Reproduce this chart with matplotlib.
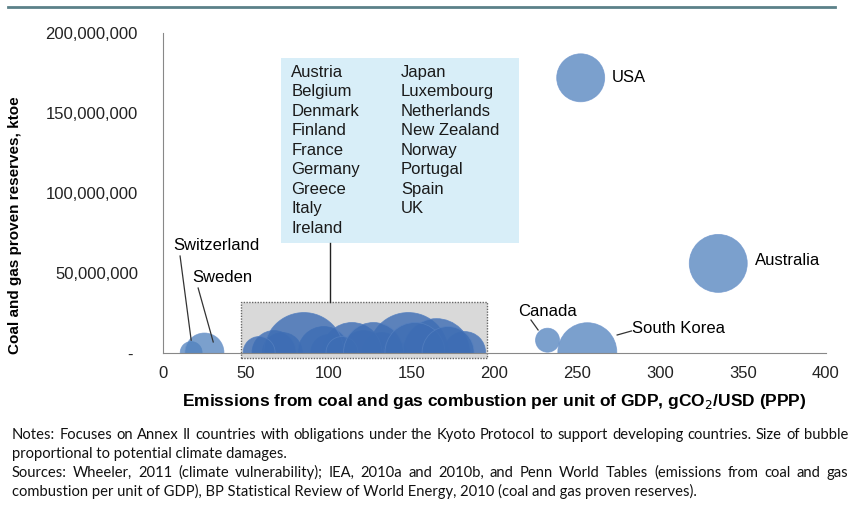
import matplotlib.pyplot as plt
from matplotlib.patches import Rectangle
from matplotlib.lines import Line2D
from matplotlib.ticker import FuncFormatter

plt.rcParams['font.family'] = ['Liberation Sans', 'DejaVu Sans']

# labelled countries: emissions (gCO2/USD), reserves (ktoe), bubble size (climate damage, rel.)
countries = ['USA', 'Australia', 'Canada', 'South Korea', 'Switzerland', 'Sweden']
emis = [252, 335, 232, 256, 17, 25]
reserves = [172e6, 56e6, 8e6, 0.5e6, 0.3e6, 0.3e6]
damage = [576, 841, 144, 870, 120, 380]

# grouped countries inside the grey box
group = ['Austria', 'Belgium', 'Denmark', 'Finland', 'France', 'Germany', 'Greece', 'Italy', 'Ireland',
         'Japan', 'Luxembourg', 'Netherlands', 'New Zealand', 'Norway', 'Portugal', 'Spain', 'UK']
group_emis = [72, 121, 100, 132, 67, 148, 182, 114, 97, 85, 140, 165, 108, 58, 127, 152, 172]
group_res = [0.3e6, 0.3e6, 0.3e6, 0.3e6, 0.3e6, 0.3e6, 0.3e6, 0.3e6, 0.3e6,
             0.3e6, 0.3e6, 0.3e6, 0.3e6, 0.3e6, 0.3e6, 0.3e6, 0.3e6]
group_damage = [400, 480, 324, 400, 484, 1600, 440, 900, 676, 1600, 144, 1150, 256, 256, 900, 900, 676]

xticks = [0, 50, 100, 150, 200, 250, 300, 350, 400]
yticks = [0, 50e6, 100e6, 150e6, 200e6]

fig = plt.figure(figsize=(8.52, 5.07), dpi=100)
ax = fig.add_axes([163/852, 1-353/507, (826-163)/852, 320/507])

k = 2.07  # px^2 -> pt^2
# grey box behind group
ax.add_patch(Rectangle((47, -3.1e6), 148.5, 35e6, facecolor='#d9d9d9', edgecolor='#666666',
                       linestyle=(0, (1, 1)), lw=1, clip_on=False, zorder=1))
ax.scatter(group_emis, group_res, s=[d*k for d in group_damage], color='#3d6db4', alpha=0.8,
           edgecolor='#5580c0', linewidth=0.6, zorder=2)
ax.scatter(emis, reserves, s=[d*k for d in damage], color='#4f81bd', alpha=0.75,
           edgecolor='#6e95cc', linewidth=0.6, zorder=2)

# group list box
ax.add_patch(Rectangle((71, 68.75e6), 144, 115.5e6, facecolor='#d8eef8', edgecolor='none', zorder=3))
ax.plot([101, 101], [68.75e6, 31.9e6], color='#222222', lw=1, zorder=3)
for i, name in enumerate(group):
    col = 0 if i < 9 else 1
    row = i if i < 9 else i - 9
    ax.text(77.5 if col == 0 else 143.5, 175.6e6 - row*12.2e6, name, fontsize=12,
            va='center', ha='left', color='#1a1a1a', zorder=4)

# labels
ax.text(270.5, 172.5e6, 'USA', fontsize=12, va='center', ha='left')
ax.text(357, 58e6, 'Australia', fontsize=12, va='center', ha='left')
ax.text(232, 26e6, 'Canada', fontsize=12, va='center', ha='center')
ax.text(283, 15.6e6, 'South Korea', fontsize=12, va='center', ha='left')
ax.text(32, 67e6, 'Switzerland', fontsize=12, va='center', ha='center')
ax.text(36, 47.5e6, 'Sweden', fontsize=12, va='center', ha='center')
lines = [((10.3, 17), (60.6e6, 8e6)), ((21.2, 30.3), (40.6e6, 6.9e6)),
         ((222, 226.3), (20.6e6, 14.4e6)), ((274, 282.6), (11.25e6, 13.75e6))]
for xs, ys in lines:
    ax.plot(xs, ys, color='#333333', lw=0.9, zorder=3)

ax.set_xlim(0, 400)
ax.set_ylim(0, 200e6)
ax.set_xticks(xticks)
ax.set_yticks(yticks)
ax.yaxis.set_major_formatter(FuncFormatter(lambda v, p: '- ' if v == 0 else f'{int(v):,}'))
ax.tick_params(length=0, labelsize=12, colors='#222222')
ax.tick_params(axis='y', pad=18)
ax.tick_params(axis='x', pad=9)
for s in ['top', 'right']:
    ax.spines[s].set_visible(False)
for s in ['left', 'bottom']:
    ax.spines[s].set_color('#888888')
ax.set_xlabel('Emissions from coal and gas combustion per unit of GDP, gCO$_2$/USD (PPP)',
              fontsize=12.5, fontweight='bold', labelpad=8)
ax.set_ylabel('Coal and gas proven reserves, ktoe', fontsize=11, fontweight='bold')
ax.yaxis.set_label_coords(-0.213, 0.4)

fig.add_artist(Line2D([8/852, 835/852], [1-7/507, 1-7/507], color='#5b8189', lw=2))

notes = ['Notes: Focuses on Annex II countries with obligations under the Kyoto Protocol to support developing countries. Size of bubble',
         'proportional to potential climate damages.',
         'Sources: Wheeler, 2011 (climate vulnerability); IEA, 2010a and 2010b, and Penn World Tables (emissions from coal and gas',
         'combustion per unit of GDP), BP Statistical Review of World Energy, 2010 (coal and gas proven reserves).']
justify = [True, False, True, False]
note_font = ['Lato', 'DejaVu Sans']
left_px, right_px = 12, 848
fig.canvas.draw()
r = fig.canvas.get_renderer()
for i, t in enumerate(notes):
    y = 1-(439 + i*19)/507
    if not justify[i]:
        fig.text(left_px/852, y, t, fontsize=10.6, va='baseline', ha='left',
                 family=note_font, color='#111111')
        continue
    words = t.split(' ')
    arts = [fig.text(0, y, w, fontsize=10.6, va='baseline', ha='left',
                     family=note_font, color='#111111') for w in words]
    widths = [a.get_window_extent(r).width for a in arts]
    gap = (right_px - left_px - sum(widths)) / (len(words) - 1)
    x = left_px
    for a, w in zip(arts, widths):
        a.set_x(x/852)
        x += w + gap

fig.savefig('out.png', dpi=100)
